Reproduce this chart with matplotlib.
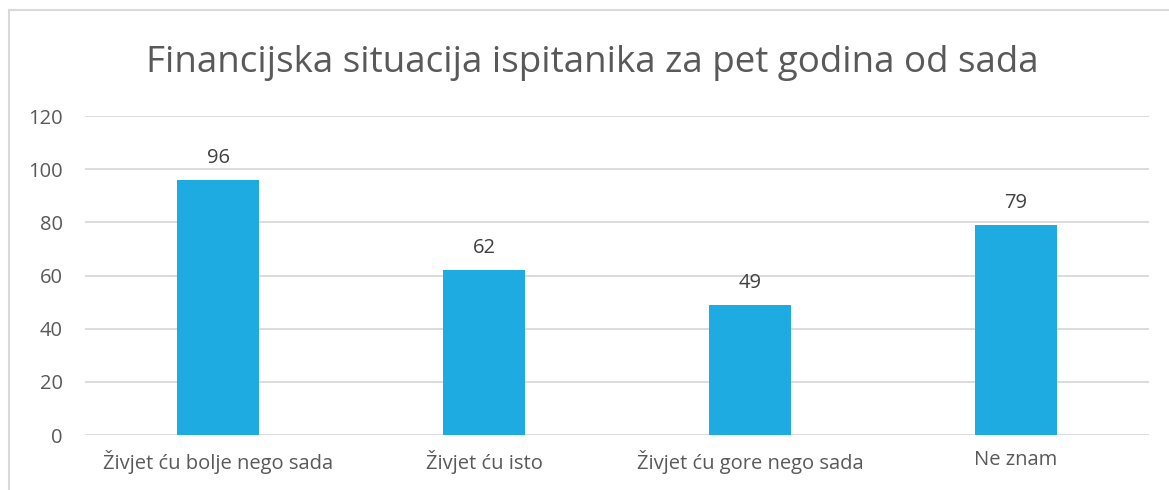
import matplotlib.pyplot as plt
from matplotlib.lines import Line2D

categories = ["Živjet ću bolje nego sada", "Živjet ću isto", "Živjet ću gore nego sada", "Ne znam"]
values = [96, 62, 49, 79]
y_ticks = [0, 20, 40, 60, 80, 100, 120]

TEXT = "#595959"
BAR = "#1EABE2"
GRID = "#D9D9D9"

plt.rcParams['font.family'] = ['Open Sans', 'DejaVu Sans']

fig = plt.figure(figsize=(11.69, 4.9), dpi=100)
ax = fig.add_axes([85 / 1169, 1 - 435 / 490, (1149 - 85) / 1169, (435 - 116) / 490])

x = range(len(categories))
bars = ax.bar(x, values, width=0.31, color=BAR, zorder=3)
for xi, v in zip(x, values):
    ax.text(xi, v + 4.5, str(v), ha="center", va="bottom", fontsize=14.5, color="#404040")

ax.set_xlim(-0.5, len(categories) - 0.5)
ax.set_ylim(0, 120)
ax.set_yticks(y_ticks)
ax.set_xticks(list(x))
ax.set_xticklabels(categories)
ax.tick_params(axis="both", length=0, labelsize=14.5, colors=TEXT)
ax.tick_params(axis="x", pad=11)
ax.tick_params(axis="y", pad=16)
ax.grid(axis="y", color=GRID, linewidth=1.3, zorder=0)
for s in ax.spines.values():
    s.set_visible(False)

fig.text(592 / 1169, 1 - 63 / 490, "Financijska situacija ispitanika za pet godina od sada",
         ha="center", va="center", fontsize=26.5, color=TEXT)

# outer chart frame (top and left visible)
fig.add_artist(Line2D([9 / 1169, 1.1], [1 - 10.5 / 490] * 2, color=GRID, linewidth=1.5,
                      transform=fig.transFigure))
fig.add_artist(Line2D([9 / 1169] * 2, [-0.1, 1 - 10.5 / 490], color=GRID, linewidth=1.5,
                      transform=fig.transFigure))

fig.savefig("out.png", dpi=100)
